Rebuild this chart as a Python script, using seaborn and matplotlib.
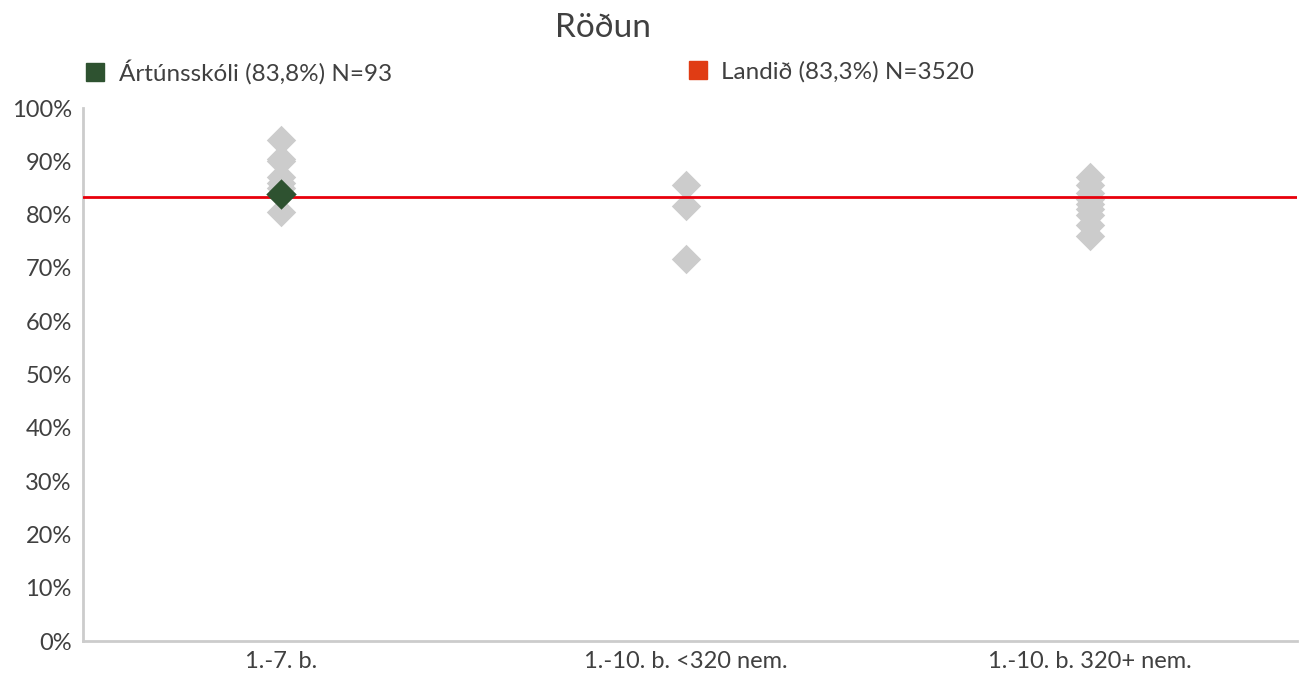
import pandas as pd
import matplotlib.pyplot as plt
import seaborn as sns
from matplotlib.lines import Line2D

# Data
categories = ["1.-7. b.", "1.-10. b. <320 nem.", "1.-10. b. 320+ nem."]
vals_1_7 = [94.0, 90.5, 90.0, 87.0, 86.0, 85.0, 80.5]
vals_small = [85.6, 81.7, 71.6]
vals_large = [87.0, 85.5, 84.0, 83.0, 82.0, 81.0, 80.0, 78.0, 76.0]
school_cat = "1.-7. b."
school_value = 83.8
country_value = 83.3
school_label = "Ártúnsskóli (83,8%) N=93"
country_label = "Landið (83,3%) N=3520"
yticks = list(range(0, 101, 10))

rows = []
for cat, vals in zip(categories, [vals_1_7, vals_small, vals_large]):
    for v in vals:
        rows.append({"flokkur": cat, "gildi": v})
df = pd.DataFrame(rows)
school_df = pd.DataFrame({"flokkur": [school_cat], "gildi": [school_value]})

sns.set_style("white")
plt.rcParams['font.family'] = ['Lato', 'DejaVu Sans']
text_color = "#404040"
grey = "#cccccc"
green = "#2e5230"
red = "#e8000b"

fig = plt.figure(figsize=(13.07, 6.73), dpi=100)
ax = fig.add_axes([0.0635, 0.0475, 0.9285, 0.792])

sns.stripplot(data=df, x="flokkur", y="gildi", order=categories, jitter=False,
              marker="D", size=15, color=grey, linewidth=0, ax=ax, zorder=2)
ax.axhline(country_value, color=red, linewidth=2, zorder=3)
sns.stripplot(data=school_df, x="flokkur", y="gildi", order=categories, jitter=False,
              marker="D", size=15.5, color=green, linewidth=0, ax=ax, zorder=4)

ax.set_xlim(-0.49, 2.51)
ax.set_ylim(0, 100)
ax.set_yticks(yticks)
ax.set_yticklabels([f"{t}%" for t in yticks])
ax.set_xlabel("")
ax.set_ylabel("")
sns.despine(ax=ax)
for side in ["left", "bottom"]:
    ax.spines[side].set_color(grey)
    ax.spines[side].set_linewidth(2)
ax.tick_params(axis="y", length=5, width=1, color="#808080", labelsize=17, labelcolor=text_color, pad=3)
ax.tick_params(axis="x", length=0, labelsize=17, labelcolor=text_color, pad=7)

fig.text(0.461, 0.958, "Röðun", ha="center", va="center", fontsize=24, color=text_color)

h1 = Line2D([], [], marker="s", linestyle="", color=green, markersize=13)
h2 = Line2D([], [], marker="s", linestyle="", color="#e03c14", markersize=13)
leg1 = fig.legend([h1], [school_label], loc="center left", bbox_to_anchor=(0.047, 0.893),
                  frameon=False, fontsize=17.5, handletextpad=0.45, handlelength=1.0,
                  labelcolor=text_color)
leg2 = fig.legend([h2], [country_label], loc="center left", bbox_to_anchor=(0.508, 0.893),
                  frameon=False, fontsize=17.5, handletextpad=0.45, handlelength=1.0,
                  labelcolor=text_color)

fig.savefig("out.png", dpi=100)
